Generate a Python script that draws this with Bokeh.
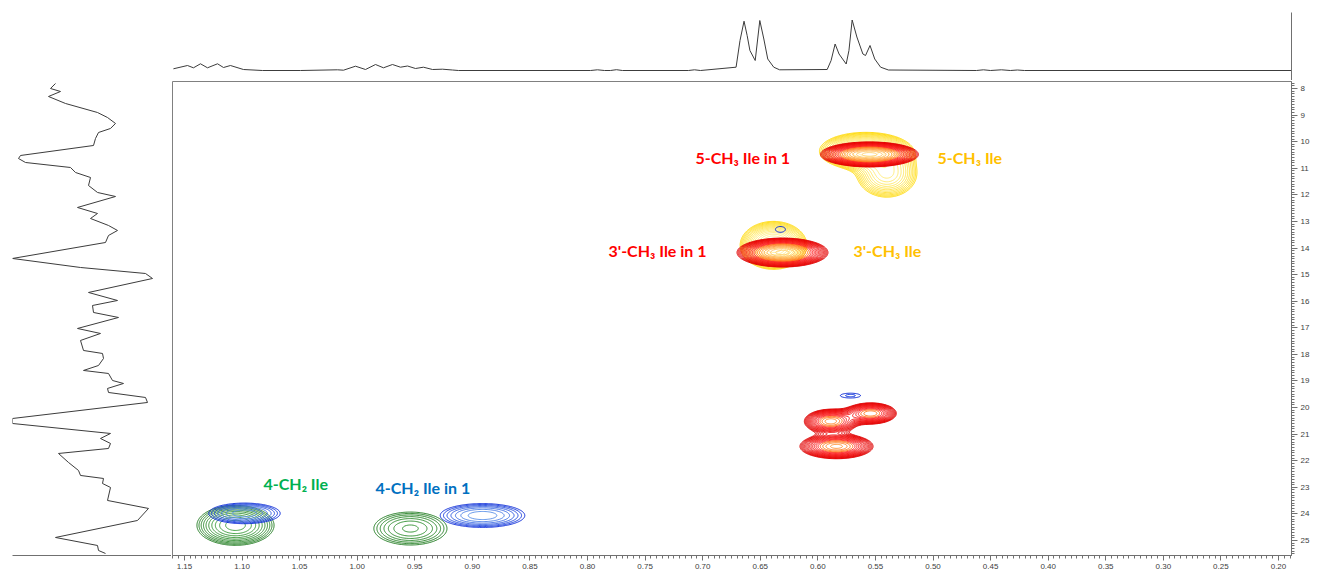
import numpy as np
from bokeh.plotting import figure
from bokeh.models import (Range1d, LinearAxis, SingleIntervalTicker, FixedTicker,
                          PrintfTickFormatter, Label, Spacer, ColumnDataSource)
from bokeh.layouts import row, column
from bokeh.embed import file_html
from bokeh.resources import INLINE
from bokeh.core.properties import value

# ---------------- data ----------------
# F2 (1H) projection: chemical shift (ppm) and intensity (a.u.)
top_ppm = [1.1596, 1.1474, 1.1422, 1.1361, 1.1300, 1.1213, 1.1161, 1.1101, 1.0988, 1.0823,
           1.0493, 1.0171, 1.0119, 1.0015, 0.9928, 0.9841, 0.9772, 0.9694, 0.9624, 0.9563,
           0.9494, 0.9425, 0.9346, 0.9259, 0.9173, 0.9121, 0.7974, 0.7914, 0.7853, 0.7801,
           0.7749, 0.7697, 0.7124, 0.7071, 0.7019, 0.6710, 0.6676, 0.6641, 0.6614, 0.6590,
           0.6544, 0.6504, 0.6469, 0.6435, 0.6383, 0.6332, 0.5919, 0.5885, 0.5850, 0.5816,
           0.5754, 0.5730, 0.5702, 0.5661, 0.5609, 0.5586, 0.5547, 0.5506, 0.5455, 0.5387,
           0.4623, 0.4562, 0.4501, 0.4406, 0.4328, 0.4267, 0.4206, 0.1887]
top_int = [3.4, 10, 5.4, 13.4, 5.4, 13.4, 6, 10, 2, 0,
           0, 1.4, 0.6, 8.6, 2, 12, 5.4, 12, 6.6, 9,
           4, 6.6, 2, 2.6, 1, 0, 0, 1.4, 0, 0,
           1.6, 0, 0, 1.4, 0, 6.6, 60, 98.6, 70, 40,
           20, 100, 63, 23, 6.6, 1.4, 2, 20, 53, 33,
           13, 40, 101, 67, 33, 30, 50, 23, 6.6, 1,
           0, 1.4, 0, 1.4, 0, 1, 0, 0]

# F1 (13C) projection: chemical shift (ppm) and intensity (a.u.)
left_ppm = [7.812, 8.000, 8.113, 8.301, 8.564, 8.903, 9.091, 9.316, 9.504, 9.655,
            9.880, 10.144, 10.520, 10.633, 10.783, 10.971, 11.159, 11.347, 11.648, 11.911,
            12.062, 12.475, 12.701, 12.889, 13.152, 13.340, 13.528, 13.792, 14.393, 14.732,
            14.958, 15.146, 15.672, 15.973, 16.161, 16.424, 16.612, 17.026, 17.214, 17.477,
            17.853, 17.966, 18.154, 18.417, 18.605, 18.718, 18.982, 19.094, 19.282, 19.433,
            19.621, 19.809, 20.411, 20.599, 20.975, 21.163, 21.351, 21.539, 21.727, 22.065,
            22.366, 22.554, 22.667, 22.855, 23.005, 23.494, 23.795, 24.247, 24.886, 25.187,
            25.375, 25.488]
left_int = [117, 122, 112, 124, 107, 75, 65, 57, 62, 74,
            77, 79, 152, 154, 147, 102, 97, 82, 84, 75,
            57, 95, 75, 82, 64, 55, 64, 67, 160, 92,
            27, 20, 84, 55, 80, 79, 54, 95, 72, 92,
            89, 70, 69, 74, 89, 64, 60, 49, 65, 64,
            27, 25, 160, 160, 62, 72, 62, 64, 114, 104,
            94, 92, 69, 70, 62, 65, 24, 35, 117, 75,
            74, 67]

# 2D cross peaks: F2 centre, F1 centre, widths (ppm), relative height
red_x = [0.5552, 0.6307, 0.5890, 0.5540, 0.5838]
red_y = [10.48, 14.17, 20.52, 20.22, 21.46]
red_sx = [0.0198, 0.0184, 0.0120, 0.0120, 0.0164]
red_sy = [0.219, 0.254, 0.240, 0.215, 0.240]
red_amp = [1.0, 1.0, 0.6, 0.55, 0.65]

yel_x = [0.5587, 0.5400, 0.6385]
yel_y = [10.36, 11.20, 13.90]
yel_sx = [0.0186, 0.0140, 0.0135]
yel_sy = [0.330, 0.480, 0.420]
yel_amp = [1.0, 0.55, 1.0]

grn_x = [1.1057, 0.9538]
grn_y = [24.43, 24.55]
grn_sx = [0.0156, 0.0183]
grn_sy = [0.350, 0.357]
grn_amp = [1.0, 0.45]

blu_x = [1.0979, 0.8912, 0.5717, 0.6325]
blu_y = [23.98, 24.06, 19.55, 13.30]
blu_sx = [0.0152, 0.0180, 0.0097, 0.0060]
blu_sy = [0.190, 0.220, 0.100, 0.150]
blu_amp = [0.8, 0.8, 0.15, 0.13]

# peak labels
label_text = ["5-CH\u2083 Ile in 1", "5-CH\u2083 Ile", "3'-CH\u2083 Ile in 1", "3'-CH\u2083 Ile",
              "4-CH\u2082 Ile", "4-CH\u2082 Ile in 1"]
label_x = [0.7063, 0.4961, 0.7818, 0.5691, 1.0814, 0.9841]
label_y = [10.595, 10.595, 14.09, 14.09, 22.855, 23.005]
label_color = ["#ff0000", "#ffc000", "#ff0000", "#ffc000", "#00b050", "#0070c0"]

# ---------------- figure ----------------
X0, X1 = 1.1604, 0.1887
Y0, Y1 = 25.564, 7.737
xr = Range1d(X0, X1)
yr = Range1d(Y0, Y1)
AX = "#707070"
TR = "#3c3c3c"


def blend(c0, c1, n):
    a = np.array([int(c0[i:i + 2], 16) for i in (1, 3, 5)], float)
    b = np.array([int(c1[i:i + 2], 16) for i in (1, 3, 5)], float)
    return ["#%02x%02x%02x" % tuple(int(round(v)) for v in a + (b - a) * t)
            for t in np.linspace(0, 1, n)]


main = figure(width=1150, height=502, x_range=xr, y_range=yr, output_backend="svg",
              toolbar_location=None, x_axis_location="below", y_axis_location="right",
              min_border_left=1, min_border_top=1, min_border_right=30, min_border_bottom=27)
main.grid.visible = False
main.outline_line_color = "#808080"
main.xaxis.ticker = SingleIntervalTicker(interval=0.05, num_minor_ticks=10)
main.yaxis.ticker = SingleIntervalTicker(interval=1, num_minor_ticks=10)
main.xaxis.formatter = PrintfTickFormatter(format="%.2f")
main.yaxis.formatter = PrintfTickFormatter(format="%d")
for ax in main.axis:
    ax.axis_line_color = AX
    ax.major_tick_line_color = AX
    ax.minor_tick_line_color = AX
    ax.major_tick_in = 0
    ax.minor_tick_in = 0
    ax.minor_tick_out = 3
    ax.major_label_text_font = "Liberation Sans"
    ax.major_label_text_font_size = "8px"
    ax.major_label_text_color = "#404040"
    ax.major_label_standoff = 3
main.xaxis.major_tick_out = 5
main.yaxis.major_tick_out = 6

gx = np.linspace(0.19, 1.16, 1300)
gy = np.linspace(7.74, 25.56, 1000)
GX, GY = np.meshgrid(gx, gy)


def field(xs, ys, sxs, sys_, amps):
    z = np.zeros_like(GX)
    for x0, y0, sx, sy, a in zip(xs, ys, sxs, sys_, amps):
        z += a * np.exp(-0.5 * (((GX - x0) / sx) ** 2 + ((GY - y0) / sy) ** 2))
    return z


yel_lv = list(np.geomspace(0.1, 0.95, 16))
main.contour(gx, gy, field(yel_x, yel_y, yel_sx, yel_sy, yel_amp), yel_lv,
             line_color=blend("#ffd800", "#fff2a8", len(yel_lv)), line_width=1, fill_color=None)

red_lv = list(np.geomspace(0.1, 0.95, 22))
red_cols = blend("#e00000", "#ff2020", 14) + blend("#ff6a10", "#ffd070", 8)
main.contour(gx, gy, field(red_x, red_y, red_sx, red_sy, red_amp), red_lv,
             line_color=red_cols, line_width=1, fill_color=None)

grn_lv = list(np.geomspace(0.1, 0.86, 10))
main.contour(gx, gy, field(grn_x, grn_y, grn_sx, grn_sy, grn_amp), grn_lv,
             line_color=blend("#1f7a1f", "#3fa03f", len(grn_lv)), line_width=1, fill_color=None)

blu_lv = list(np.geomspace(0.1, 0.63, 7))
main.contour(gx, gy, field(blu_x, blu_y, blu_sx, blu_sy, blu_amp), blu_lv,
             line_color=blend("#0a2ad8", "#5a90e8", len(blu_lv)), line_width=1, fill_color=None)

lab_src = ColumnDataSource(dict(x=label_x, y=label_y, text=label_text, color=label_color))
main.text(x="x", y="y", text="text", source=lab_src, text_color="color",
          text_font=value("Lato"), text_font_style="bold", text_font_size="16px",
          text_align="left", text_baseline="middle")

main.add_layout(Label(x=0.760, y=26.34, text="F2 Chemical Shift (ppm)", text_font_size="7px",
                      text_font="Liberation Sans", text_align="center", text_baseline="middle",
                      text_color="#404040"))
main.add_layout(Label(x=0.1662, y=16.65, text="F1 Chemical Shift (ppm)", text_font_size="7px",
                      text_font="Liberation Sans", text_align="center", text_baseline="middle",
                      text_color="#8b3a3a", angle=-np.pi / 2))

# top projection
top = figure(width=1150, height=80, x_range=xr, y_range=Range1d(-20, 116), output_backend="svg",
             toolbar_location=None, x_axis_location=None, y_axis_location=None,
             min_border_left=1, min_border_right=30, min_border_top=12, min_border_bottom=0)
top.grid.visible = False
top.outline_line_color = None
top.line(top_ppm, top_int, line_color=TR, line_width=1)
rax = LinearAxis(ticker=FixedTicker(ticks=[]), axis_line_color=AX)
top.add_layout(rax, "right")

# left projection
left = figure(width=171, height=502, x_range=Range1d(160, 1), y_range=yr, output_backend="svg",
              toolbar_location=None, x_axis_location="below", y_axis_location=None,
              min_border_left=12, min_border_right=0, min_border_top=1, min_border_bottom=27)
left.grid.visible = False
left.outline_line_color = None
left.xaxis.ticker = FixedTicker(ticks=[])
left.xaxis.axis_line_color = AX
left.line(left_int, left_ppm, line_color=TR, line_width=1)

layout = column(row(Spacer(width=171, height=80), top), row(left, main))

open("out.html", "w").write(file_html(layout, INLINE))
